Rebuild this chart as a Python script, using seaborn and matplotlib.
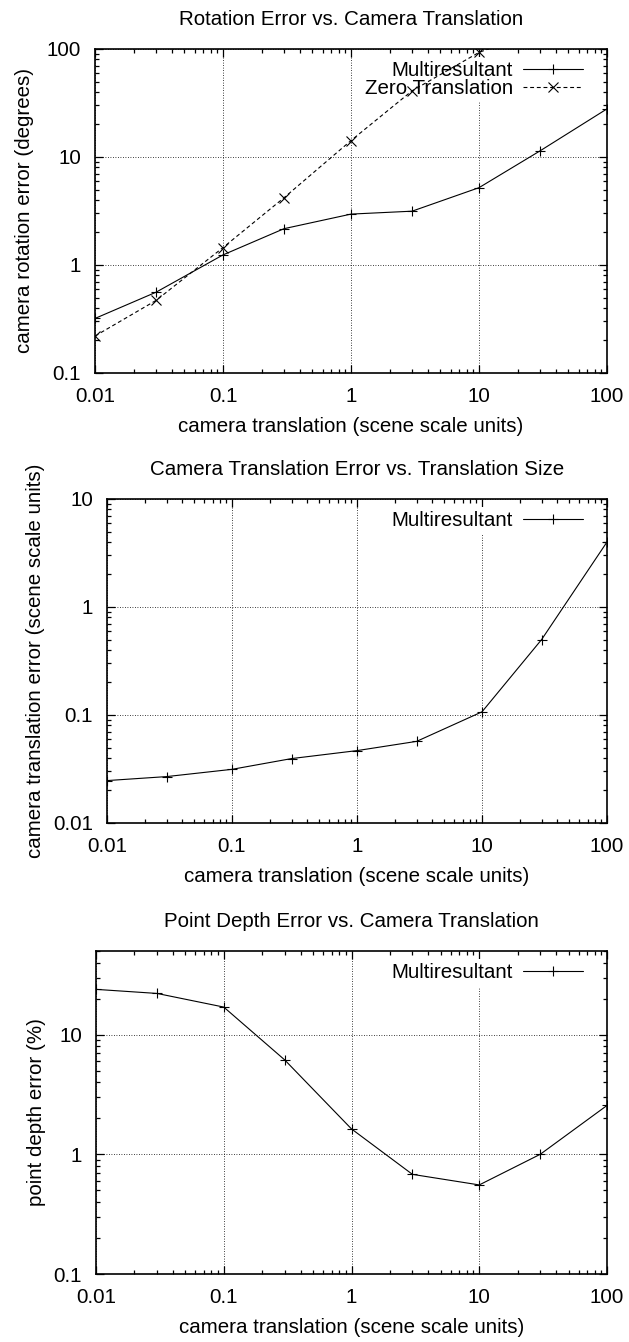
import numpy as np
import pandas as pd
import matplotlib
matplotlib.use("Agg")
import matplotlib.pyplot as plt
import matplotlib.ticker as mticker
import seaborn as sns

# ---------------- data ----------------
translation = [0.01, 0.03, 0.1, 0.3, 1, 3, 10, 30, 100]

rot_multi = [0.32, 0.56, 1.24, 2.17, 2.96, 3.15, 5.2, 11.4, 27.9]
zero_translation_x = [0.01, 0.03, 0.1, 0.3, 1, 3, 10, 30]
rot_zero = [0.22, 0.47, 1.45, 4.2, 14.2, 41, 93, 150]

trans_err_multi = [0.0247, 0.0269, 0.0314, 0.0395, 0.0468, 0.057, 0.107, 0.50, 4.0]

depth_err_multi = [23.9, 22.1, 17.0, 6.15, 1.63, 0.68, 0.555, 1.0, 2.56]

x_ticks = [0.01, 0.1, 1, 10, 100]
x_tick_labels = ["0.01", "0.1", "1", "10", "100"]

titles = ["Rotation Error vs. Camera Translation",
          "Camera Translation Error vs. Translation Size",
          "Point Depth Error vs. Camera Translation"]
ylabels = ["camera rotation error (degrees)",
           "camera translation error (scene scale units)",
           "point depth error (%)"]
xlabel = "camera translation (scene scale units)"

# ---------------- style ----------------
sns.set_theme(style="ticks")
plt.rcParams['font.family'] = ['Liberation Sans', 'DejaVu Sans']
FS = 14.8
plt.rcParams.update({
    "font.size": FS,
    "axes.edgecolor": "black",
    "axes.linewidth": 1.2,
    "text.color": "black",
    "axes.labelcolor": "black",
    "xtick.color": "black",
    "ytick.color": "black",
})

W, H = 629, 1342
fig = plt.figure(figsize=(W / 100, H / 100), dpi=100)

boxes = [(95, 49, 607, 373), (107, 499, 607, 823), (96, 951, 607, 1274)]

def px_axes(left, top, right, bottom):
    return fig.add_axes([left / W, 1 - bottom / H, (right - left) / W, (bottom - top) / H])

axes = [px_axes(*b) for b in boxes]

ylims = [(0.1, 100), (0.01, 10), (0.1, 50)]
y_tick_sets = [([0.1, 1, 10, 100], ["0.1", "1", "10", "100"]),
               ([0.01, 0.1, 1, 10], ["0.01", "0.1", "1", "10"]),
               ([0.1, 1, 10], ["0.1", "1", "10"])]
ylabel_pads = [9, 5.5, 5.5]

line_kw = dict(color="black", linewidth=0.8, markersize=6.5,
               markeredgecolor="black", markeredgewidth=0.8, zorder=3)

series = [
    [("Multiresultant", translation, rot_multi, "+", "-"),
     ("Zero Translation", zero_translation_x, rot_zero, "x", "--")],
    [("Multiresultant", translation, trans_err_multi, "+", "-")],
    [("Multiresultant", translation, depth_err_multi, "+", "-")],
]

for i, ax in enumerate(axes):
    handles = []
    for name, xs, ys, mk, ls in series[i]:
        df = pd.DataFrame({"x": xs, "y": ys})
        sns.lineplot(data=df, x="x", y="y", marker=mk, ax=ax, label=name,
                     linestyle=ls, **line_kw)
        ln = ax.get_lines()[-1]
        if ls == "--":
            ln.set_dashes((3.5, 2.5))
        handles.append(ln)

    ax.set_xscale("log")
    ax.set_yscale("log")
    ax.set_xlim(0.01, 100)
    ax.set_ylim(*ylims[i])

    ax.xaxis.set_major_locator(mticker.FixedLocator(x_ticks))
    ax.xaxis.set_major_formatter(mticker.FixedFormatter(x_tick_labels))
    ax.xaxis.set_minor_locator(mticker.LogLocator(base=10, subs=np.arange(2, 10)))
    ax.xaxis.set_minor_formatter(mticker.NullFormatter())
    yt, ytl = y_tick_sets[i]
    ax.yaxis.set_major_locator(mticker.FixedLocator(yt))
    ax.yaxis.set_major_formatter(mticker.FixedFormatter(ytl))
    ax.yaxis.set_minor_locator(mticker.LogLocator(base=10, subs=np.arange(2, 10)))
    ax.yaxis.set_minor_formatter(mticker.NullFormatter())

    ax.tick_params(which="both", direction="in", top=True, right=True,
                   labelsize=FS, width=0.9)
    ax.tick_params(axis="x", which="major", length=6, pad=10)
    ax.tick_params(axis="y", which="major", length=6, pad=10)
    ax.tick_params(which="minor", length=3)
    for s in ax.spines.values():
        s.set_visible(True)
        s.set_linewidth(1.2)

    ax.grid(True, which="major", color="black", linestyle=(0, (1, 2)), linewidth=0.6)
    ax.set_axisbelow(True)

    ax.set_title(titles[i], fontsize=FS, pad=17)
    ax.set_xlabel(xlabel, fontsize=FS, labelpad=8)
    ax.set_ylabel(ylabels[i], fontsize=FS, labelpad=ylabel_pads[i])

    l, t, r, b = boxes[i]
    anchor = ((587 - l) / (r - l), 1 - 8.3 / (b - t))
    leg = ax.legend(handles=handles, loc="upper right", bbox_to_anchor=anchor,
                    markerfirst=False,
                    frameon=True, facecolor="white", edgecolor="none", framealpha=1,
                    fancybox=False, handlelength=2.9, handletextpad=0.5,
                    labelspacing=-0.05, borderpad=0.2, borderaxespad=0.0,
                    fontsize=FS)
    leg.set_zorder(1)

fig.savefig("out.png", dpi=100, facecolor="white")
